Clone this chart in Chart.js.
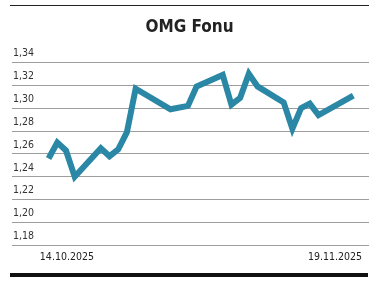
<!DOCTYPE html>
<html>
<head>
<meta charset="utf-8">
<script src="https://cdn.jsdelivr.net/npm/chart.js@4"></script>
<style>
    body { margin: 0; background: #fff; }
    #wrap { position: relative; width: 378px; height: 284px; }
    #rule_top { position: absolute; left: 10px; top: 5px; width: 359px; height: 1px; background: #222; }
    #rule_bottom { position: absolute; left: 10px; top: 273px; width: 358px; height: 4px; background: #111; }
</style>
</head>
<body>
<div id="wrap">
    <canvas id="chart_omg" width="378" height="284"></canvas>
    <div id="rule_top"></div>
    <div id="rule_bottom"></div>
</div>
<script>
// işlem günleri (grafikte görünen kırılma noktaları)
const dates = [
    '2025-10-14', '2025-10-15', '2025-10-16', '2025-10-17',
    '2025-10-20', '2025-10-21', '2025-10-22', '2025-10-23', '2025-10-24',
    '2025-10-28', '2025-10-30', '2025-10-31',
    '2025-11-03', '2025-11-04', '2025-11-05', '2025-11-06', '2025-11-07',
    '2025-11-10', '2025-11-11', '2025-11-12', '2025-11-13', '2025-11-14',
    '2025-11-18'
];

const prices = [
    1.256, 1.270, 1.263, 1.240,
    1.265, 1.258, 1.264, 1.279, 1.317,
    1.299, 1.302, 1.319,
    1.329, 1.303, 1.309, 1.330, 1.319,
    1.305, 1.282, 1.300, 1.304, 1.294,
    1.311
];

const yTicks = [1.18, 1.20, 1.22, 1.24, 1.26, 1.28, 1.30, 1.32, 1.34];
const yTickLabels = ['1,18', '1,20', '1,22', '1,24', '1,26', '1,28', '1,30', '1,32', '1,34'];

const xTickDates = ['2025-10-13', '2025-11-19'];
const xTickLabels = ['14.10.2025', '19.11.2025'];

const FONT = '"DejaVu Sans Condensed", "DejaVu Sans", sans-serif';

const DAY = 24 * 3600 * 1000;
const start = Date.parse(dates[0]);

// gün sayısı (14.10 = 0)
function dayIndex(d) {
    return Math.round((Date.parse(d) - start) / DAY);
}

const points = dates.map((d, i) => ({ x: dayIndex(d), y: prices[i] }));

const ctx = document.getElementById('chart_omg').getContext('2d');

new Chart(ctx, {
    type: 'line',
    data: {
        datasets: [
            {
                label: 'OMG Fonu',
                data: points,
                borderColor: '#2a87a6',
                borderWidth: 6,
                borderJoinStyle: 'miter',
                pointRadius: 0,
                tension: 0
            }
        ]
    },
    options: {
        animation: false,
        responsive: false,
        layout: {
            padding: { left: 10, right: 9, top: 0, bottom: 14 }
        },
        plugins: {
            legend: { display: false },
            tooltip: { enabled: false },
            title: {
                display: true,
                text: 'OMG Fonu',
                color: '#222',
                font: { family: FONT, size: 17, weight: 'bold' },
                padding: { top: 17, bottom: 25 }
            }
        },
        scales: {
            x: {
                type: 'linear',
                min: -4.2,
                max: 36.8,
                grid: { display: false, drawTicks: false, tickLength: 0 },
                border: { display: false },
                afterBuildTicks: (scale) => {
                    scale.ticks = xTickDates.map(d => ({ value: dayIndex(d) }));
                },
                ticks: {
                    align: 'inner',
                    padding: 6,
                    color: '#222',
                    font: { family: FONT, size: 10.5 },
                    callback: (v, i) => xTickLabels[i]
                }
            },
            y: {
                min: 1.18,
                max: 1.34,
                grid: { color: '#9d9d9d', lineWidth: 1, drawTicks: false },
                border: { display: false },
                afterBuildTicks: (scale) => {
                    scale.ticks = yTicks.map(v => ({ value: v }));
                },
                ticks: {
                    mirror: true,
                    padding: 1,
                    labelOffset: -9,
                    color: '#333',
                    font: { family: FONT, size: 10.5 },
                    callback: (v, i) => yTickLabels[i]
                }
            }
        }
    }
});
</script>
</body>
</html>
